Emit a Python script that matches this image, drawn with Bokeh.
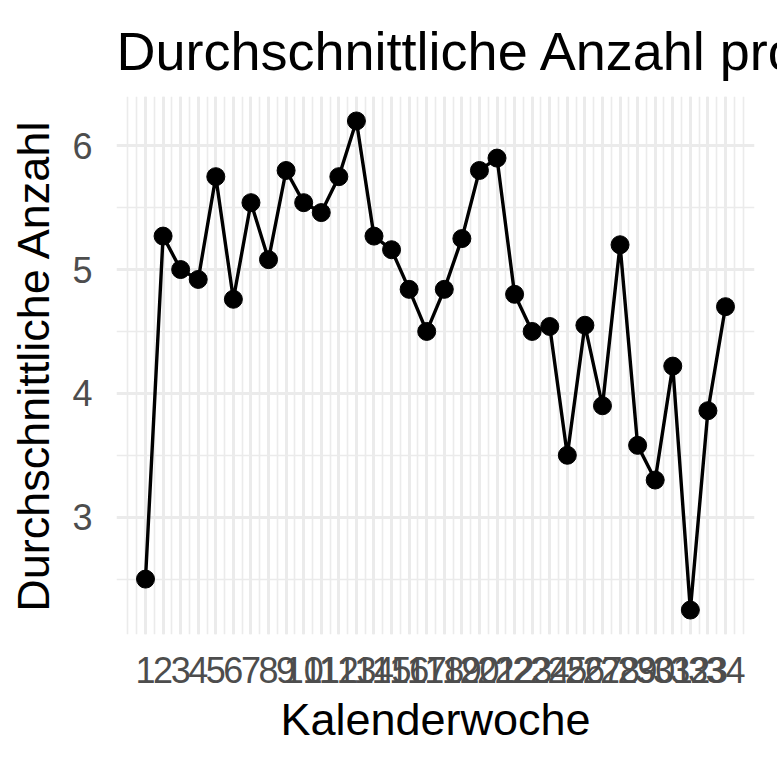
from bokeh.plotting import figure
from bokeh.models import Range1d, FixedTicker
from bokeh.embed import file_html
from bokeh.resources import INLINE

weeks = list(range(1, 35))
week_labels = [str(w) for w in weeks]
avg_count = [2.50, 5.27, 5.00, 4.92, 5.75, 4.76, 5.54, 5.08, 5.80, 5.54,
             5.46, 5.75, 6.20, 5.27, 5.16, 4.84, 4.50, 4.84, 5.25, 5.80,
             5.90, 4.80, 4.50, 4.54, 3.50, 4.55, 3.90, 5.20, 3.58, 3.30,
             4.22, 2.25, 3.86, 4.70]
y_major = [3, 4, 5, 6]
y_minor = [2.5, 3.5, 4.5, 5.5]

title_text = "Durchschnittliche Anzahl pro Kalenderwoche"
x_title = "Kalenderwoche"
y_title = "Durchschnittliche Anzahl"

xspan = max(weeks) - min(weeks)
yspan = max(avg_count) - min(avg_count)
x_range = Range1d(min(weeks) - 0.05 * xspan, max(weeks) + 0.05 * xspan)
y_range = Range1d(min(avg_count) - 0.05 * yspan, max(avg_count) + 0.05 * yspan)

FONT = "Liberation Sans"

p = figure(width=777, height=764, x_range=x_range, y_range=y_range,
           output_backend="svg", toolbar_location=None,
           min_border_left=116, min_border_right=23,
           min_border_top=96, min_border_bottom=130,
           title=title_text)
p.outline_line_color = None
p.background_fill_color = "white"
p.border_fill_color = "white"

p.title.text_font = FONT
p.title.text_font_size = "54px"
p.title.text_font_style = "normal"
p.title.text_color = "black"
p.title.align = "left"
p.title.vertical_align = "top"
p.title.standoff = 27

minor_x = [i * 0.5 for i in range(0, 71)]
p.xaxis.ticker = FixedTicker(ticks=weeks, minor_ticks=minor_x)
p.xaxis.major_label_overrides = {w: l for w, l in zip(weeks, week_labels)}
p.yaxis.ticker = FixedTicker(ticks=y_major, minor_ticks=y_minor)
p.xgrid.ticker = FixedTicker(ticks=weeks, minor_ticks=minor_x)
p.ygrid.ticker = FixedTicker(ticks=y_major, minor_ticks=y_minor)

for g in (p.xgrid, p.ygrid):
    g.grid_line_color = "#EBEBEB"
    g.grid_line_width = 3
    g.minor_grid_line_color = "#EBEBEB"
    g.minor_grid_line_width = 1.6

for ax in (p.xaxis, p.yaxis):
    ax.axis_line_color = None
    ax.major_tick_line_color = None
    ax.minor_tick_line_color = None
    ax.major_tick_out = 0
    ax.major_tick_in = 0
    ax.major_label_text_font = FONT
    ax.major_label_text_font_size = "36px"
    ax.major_label_text_color = "#4D4D4D"
    ax.axis_label_text_font = FONT
    ax.axis_label_text_font_size = "45px"
    ax.axis_label_text_font_style = "normal"
    ax.axis_label_text_color = "black"

p.xaxis.axis_label = x_title
p.yaxis.axis_label = y_title
p.xaxis.major_label_standoff = 18
p.yaxis.major_label_standoff = 20
p.xaxis.axis_label_standoff = 8
p.yaxis.axis_label_standoff = 10

p.line(weeks, avg_count, line_color="black", line_width=3.4)
p.scatter(weeks, avg_count, size=18, fill_color="black", line_color="black")

open("out.html", "w").write(file_html(p, INLINE))
